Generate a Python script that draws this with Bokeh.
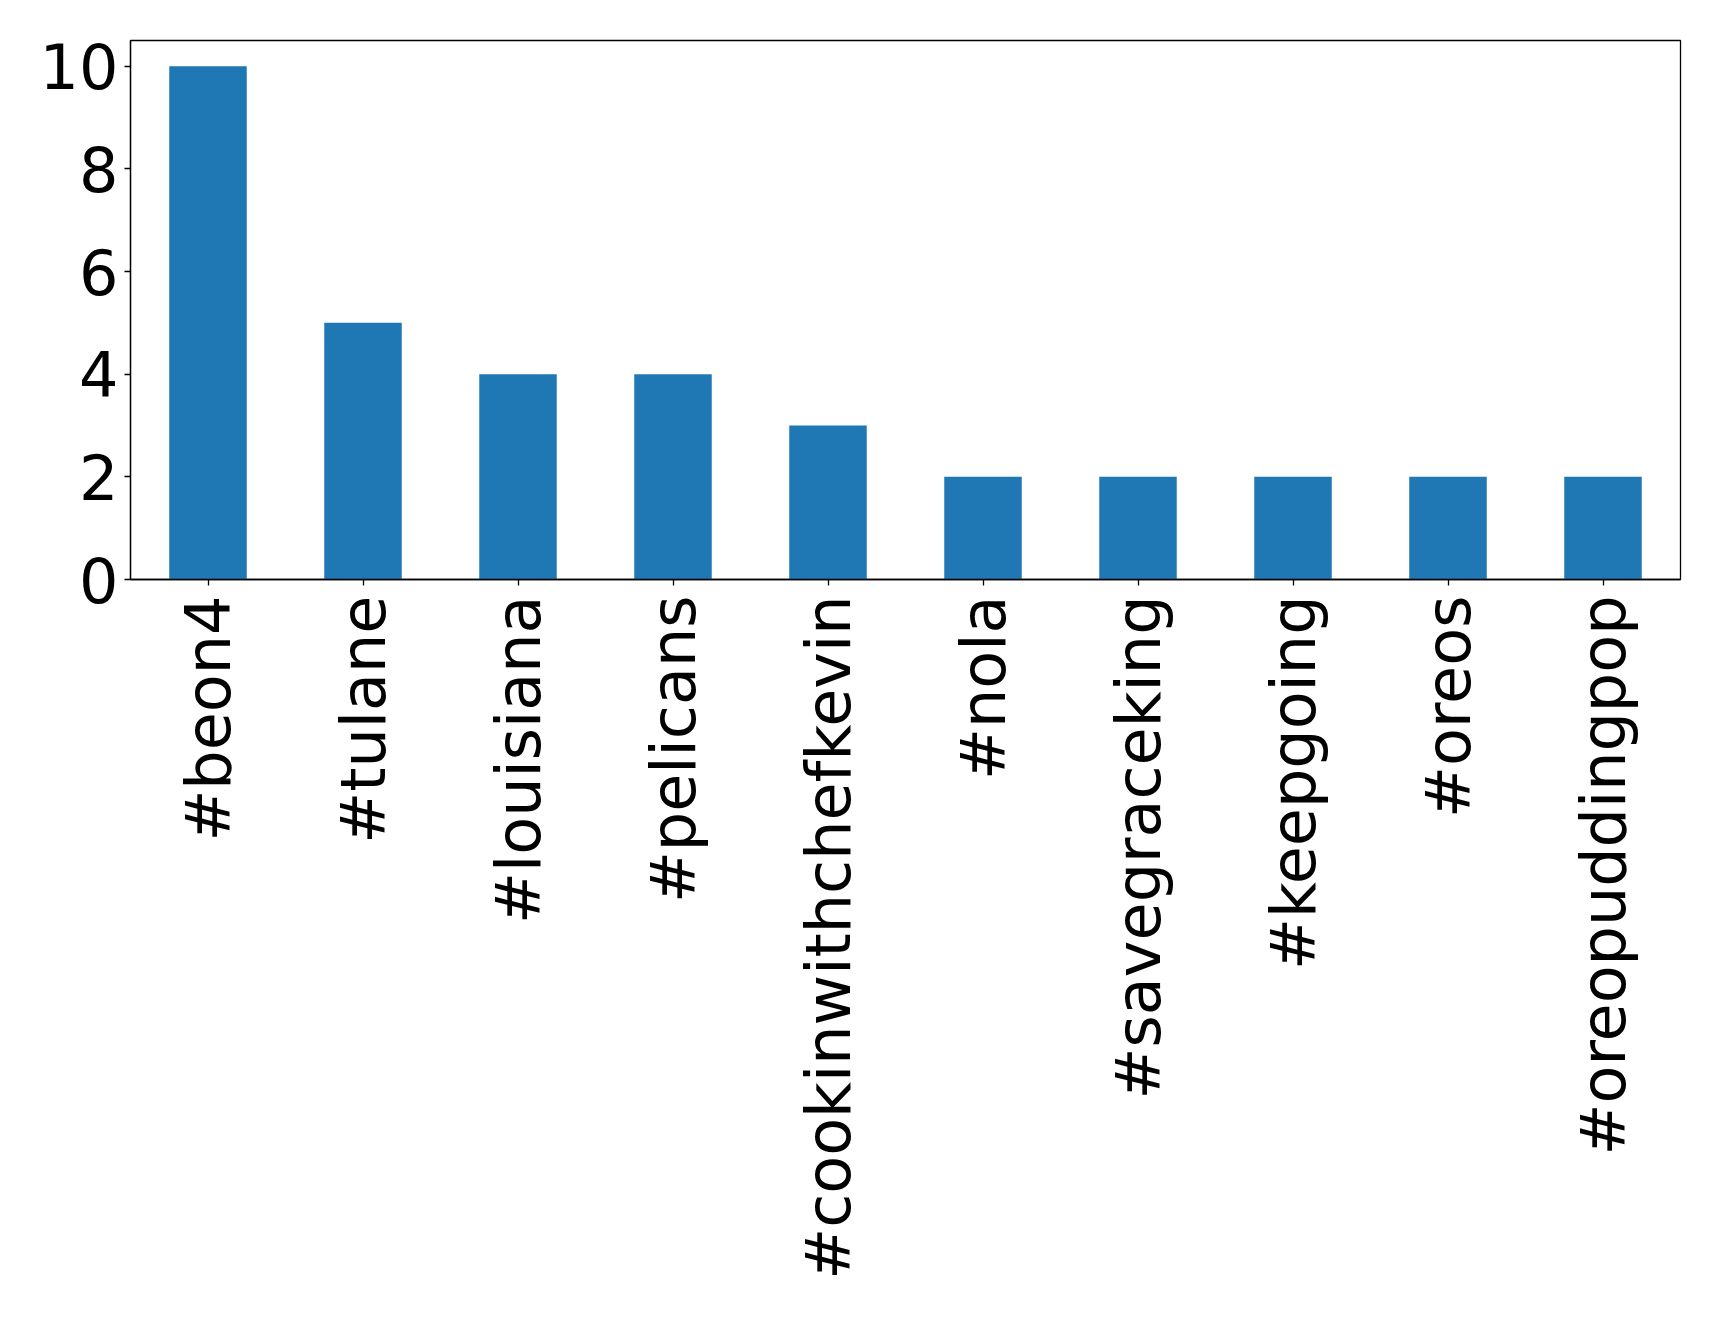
import math
from bokeh.plotting import figure
from bokeh.models import FixedTicker, Range1d, ColumnDataSource
from bokeh.embed import file_html
from bokeh.resources import INLINE

hashtags = ["#beon4", "#tulane", "#louisiana", "#pelicans", "#cookinwithchefkevin",
            "#nola", "#savegraceking", "#keepgoing", "#oreos", "#oreopuddingpop"]
counts = [10, 5, 4, 4, 3, 2, 2, 2, 2, 2]
y_ticks = [0, 2, 4, 6, 8, 10]

source = ColumnDataSource(data=dict(tag=hashtags, count=counts))

p = figure(x_range=hashtags, y_range=Range1d(0, 10.5),
           frame_width=1550, frame_height=539,
           output_backend="svg", toolbar_location=None,
           min_border_left=130, min_border_top=40, min_border_right=20, min_border_bottom=10)

p.vbar(x="tag", top="count", width=0.5, source=source,
       fill_color="#1f77b4", line_color=None)

p.xgrid.visible = False
p.ygrid.visible = False
p.outline_line_color = "black"
p.outline_line_width = 1.3
p.background_fill_color = "white"
p.border_fill_color = "white"

p.yaxis.ticker = FixedTicker(ticks=y_ticks)
p.yaxis.minor_tick_line_color = None

for ax in (p.xaxis[0], p.yaxis[0]):
    ax.axis_line_color = "black"
    ax.axis_line_width = 1.3
    ax.major_tick_line_color = "black"
    ax.major_tick_line_width = 1.3
    ax.major_tick_out = 6
    ax.major_tick_in = 0
    ax.major_label_text_font = "DejaVu Sans"
    ax.major_label_text_font_size = "62px"
    ax.major_label_text_color = "black"

p.yaxis.major_label_standoff = 6
p.xaxis.major_label_standoff = 10
p.xaxis.major_label_orientation = math.pi / 2

open("out.html", "w").write(file_html(p, INLINE))
